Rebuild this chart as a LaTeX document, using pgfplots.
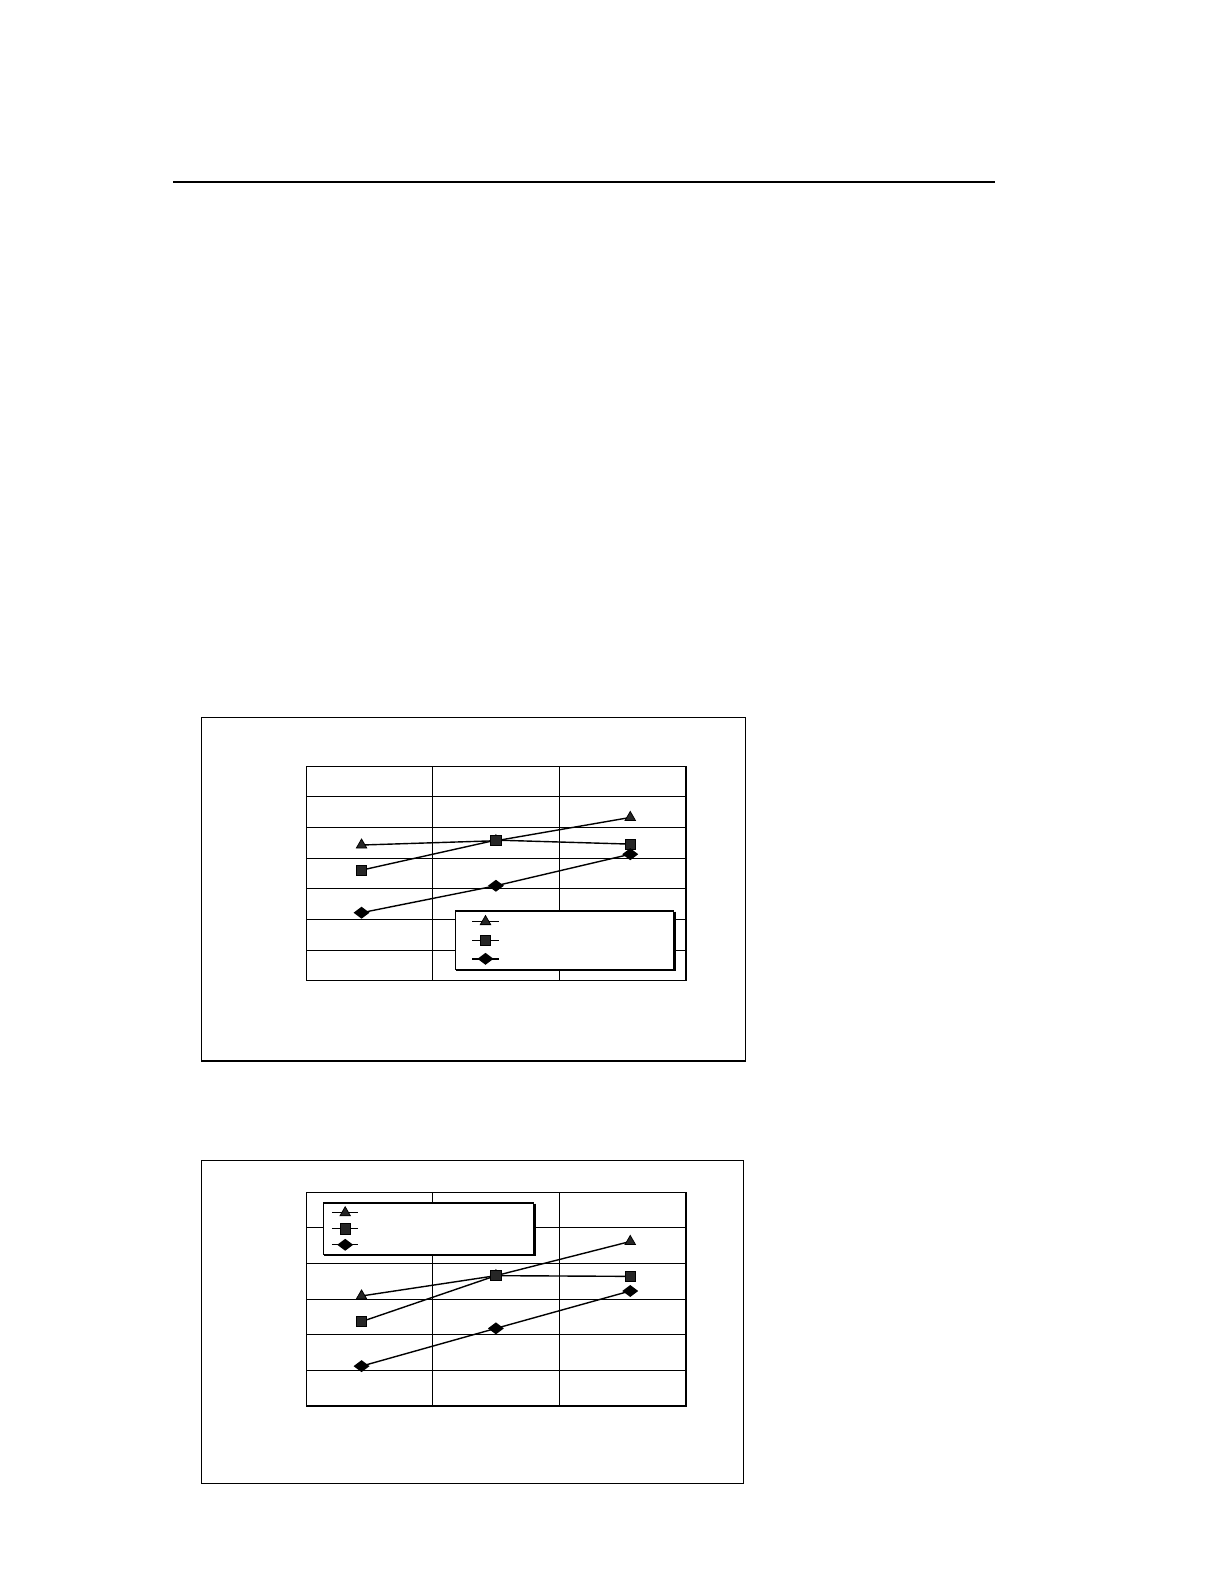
\documentclass[border=0pt]{standalone}
\usepackage{pgfplots}
\pgfplotsset{compat=1.18}

\pgfplotstableread{
x    tri   sq    dia
1    4.43  3.61  2.22
2    4.57  4.59  3.10
3    5.33  4.46  4.13
}\chartA
\pgfplotstableread{
x    tri   sq    dia
1    3.09  2.37  1.12
2    3.66  3.66  2.18
3    4.62  3.64  3.23
}\chartB

\pgfplotsset{
  pagechart/.style={
    scale only axis,
    anchor=south west,
    xmin=0.588, xmax=3.415,
    ymin=0,
    xtick={1.530,2.476},
    xticklabels={},
    yticklabels={},
    major tick length=0pt,
    xmajorgrids, ymajorgrids,
    grid style={black, line width=0.5pt},
    axis line style={black, line width=0.6pt},
    clip=false,
    legend cell align=left,
    legend image code/.code={
      \draw[mark repeat=2,mark phase=2,##1] plot coordinates {(0pt,0pt) (6.6pt,0pt) (13.2pt,0pt)};
    },
  },
  ser/.style={black, line width=0.7pt, mark options={solid, fill=black!85, draw=black, line width=0.4pt}},
}

\begin{document}
\begin{tikzpicture}
\path[use as bounding box] (0pt,0pt) rectangle (612pt,-792pt);
\fill[white] (0pt,0pt) rectangle (612pt,-792pt);
% top rule
\draw[line width=0.8pt] (86.5pt,-90.85pt) -- (497.5pt,-90.85pt);
% frames
\draw[line width=0.6pt] (100.65pt,-358.65pt) rectangle (372.85pt,-530.5pt);
\draw[line width=0.6pt] (100.65pt,-580.15pt) rectangle (371.65pt,-741.65pt);

% chart 1
\begin{axis}[pagechart,
  at={(153.1pt,-490.35pt)},
  width=189.9pt, height=107.2pt,
  ymax=7, ytick={0,1,...,7},
  legend style={name=legA, at={(0.3907,0.3284)}, anchor=north west, draw=black, line width=0.6pt, fill=white,
    inner xsep=8.2pt, inner ysep=0.7pt, row sep=0pt, column sep=0pt,
    nodes={inner sep=0pt, minimum height=9.3pt, text width=79pt, anchor=west}},
]
\addplot[ser, mark=triangle*, mark size=3pt] table[x=x,y=tri]{\chartA};
\addlegendentry{\mbox{}}
\addplot[ser, mark=square*, mark size=2.6pt] table[x=x,y=sq]{\chartA};
\addlegendentry{\mbox{}}
\addplot[ser, mark=diamond*, mark size=3.4pt, mark options={rotate=90}] table[x=x,y=dia]{\chartA};
\addlegendentry{\mbox{}}
\draw[line width=1.2pt] (rel axis cs:1,0) -- (rel axis cs:1,1);
\end{axis}
\draw[line width=1.2pt] (legA.north east) ++(0.3pt,-0.6pt) |- ([xshift=0.6pt]legA.south west);

% chart 2
\begin{axis}[pagechart,
  at={(153.1pt,-703pt)},
  width=189.9pt, height=106.85pt,
  ymax=6, ytick={0,1,...,6},
  legend style={name=legB, at={(0.045,0.953)}, anchor=north west, draw=black, line width=0.6pt, fill=white,
    inner xsep=3.7pt, inner ysep=0.9pt, row sep=0pt, column sep=0pt,
    nodes={inner sep=0pt, minimum height=8pt, text width=83.5pt, anchor=west}},
]
\addplot[ser, mark=triangle*, mark size=3pt] table[x=x,y=tri]{\chartB};
\addlegendentry{\mbox{}}
\addplot[ser, mark=square*, mark size=2.6pt] table[x=x,y=sq]{\chartB};
\addlegendentry{\mbox{}}
\addplot[ser, mark=diamond*, mark size=3.4pt, mark options={rotate=90}] table[x=x,y=dia]{\chartB};
\addlegendentry{\mbox{}}
\draw[line width=1.2pt] (rel axis cs:1,0) -- (rel axis cs:1,1);
\end{axis}
\draw[line width=1.2pt] (legB.north east) ++(0.3pt,-0.6pt) |- ([xshift=0.6pt]legB.south west);
\end{tikzpicture}
\end{document}
